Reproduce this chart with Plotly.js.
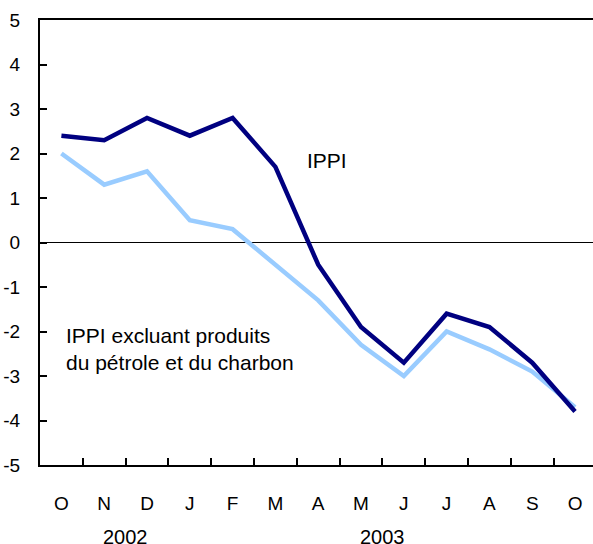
<!DOCTYPE html>
<html>
<head>
<meta charset="utf-8">
<script src="https://cdn.plot.ly/plotly-3.0.1.min.js"></script>
<style>html,body{margin:0;padding:0;background:#fff;}#chart{width:593px;height:544px;}</style>
</head>
<body>
<div id="chart"></div>
<script>
const months = ["O","N","D","J","F","M","A","M","J","J","A","S","O"];
const ippi = [2.4, 2.3, 2.8, 2.4, 2.8, 1.7, -0.5, -1.9, -2.7, -1.6, -1.9, -2.7, -3.8];
const ippiExcl = [2.0, 1.3, 1.6, 0.5, 0.3, -0.5, -1.3, -2.3, -3.0, -2.0, -2.4, -2.9, -3.7];
const years = ["2002", "2003"];
const yearPos = [1.5, 7.5];
const yTicks = [5, 4, 3, 2, 1, 0, -1, -2, -3, -4, -5];
const yTickText = ["5", "4", "3", "2", "1", "0", "-1", "-2", "-3", "-4", "-5"];

const idx = months.map((m, i) => i);
const bounds = months.slice(1).map((m, i) => i + 0.5);
const font = "Liberation Sans, Arial, sans-serif";

const traces = [
  {x: idx, y: ippiExcl, type: "scatter", mode: "lines", line: {color: "#99CCFF", width: 4.5}, hoverinfo: "skip"},
  {x: idx, y: ippi, type: "scatter", mode: "lines", line: {color: "#000080", width: 4.5}, hoverinfo: "skip"},
  {x: bounds, y: bounds.map(() => null), xaxis: "x2", type: "scatter", mode: "lines", hoverinfo: "skip"}
];

const xr = [-0.5, 12.42];
const layout = {
  width: 593, height: 544,
  margin: {l: 40, r: 0, t: 20, b: 79},
  paper_bgcolor: "#fff", plot_bgcolor: "#fff",
  showlegend: false,
  font: {family: font, size: 19, color: "#000"},
  xaxis: {
    range: xr, tickmode: "array", tickvals: idx, ticktext: months,
    ticks: "", showgrid: false, zeroline: false,
    showline: true, linecolor: "#000", linewidth: 2, mirror: true,
    ticklabelstandoff: 20, tickfont: {size: 19}
  },
  xaxis2: {
    overlaying: "x", range: xr, tickmode: "array", tickvals: bounds,
    ticks: "inside", ticklen: 7, tickwidth: 2, tickcolor: "#000",
    showticklabels: false, showgrid: false, zeroline: false, showline: false
  },
  yaxis: {
    range: [-5, 5], tickmode: "array", tickvals: yTicks, ticktext: yTickText,
    ticks: "inside", ticklen: 7, tickwidth: 2, tickcolor: "#000",
    showgrid: false, showline: true, linecolor: "#000", linewidth: 2,
    zeroline: true, zerolinecolor: "#000", zerolinewidth: 1,
    ticklabelstandoff: 14, tickfont: {size: 19}
  },
  annotations: [
    {x: 5.68, y: 1.85, xref: "x", yref: "y", text: "IPPI", showarrow: false, xanchor: "left", font: {size: 21}},
    {x: 0.05, y: -2.4, xref: "x", yref: "y", text: "IPPI excluant produits<br>du pétrole et du charbon", showarrow: false, xanchor: "left", align: "left", font: {size: 21}},
    ...years.map((t, i) => ({x: yearPos[i], y: -0.162, xref: "x", yref: "paper", text: t, showarrow: false, yanchor: "middle", font: {size: 20}}))
  ]
};

Plotly.newPlot("chart", traces, layout, {staticPlot: true, displayModeBar: false});
</script>
</body>
</html>
